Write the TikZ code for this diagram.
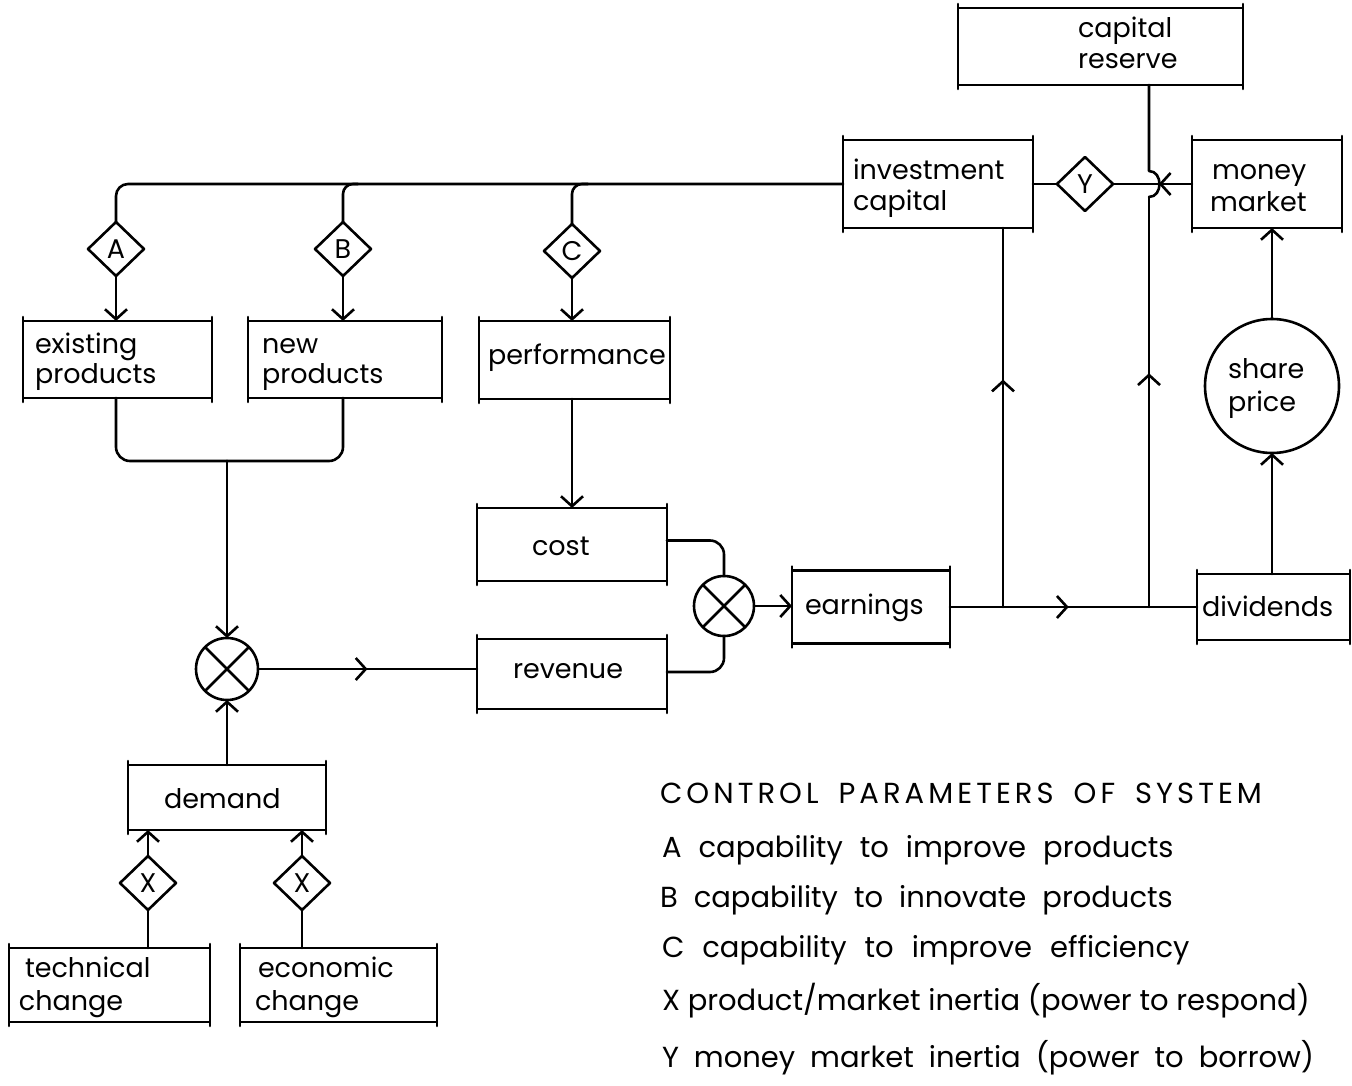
\documentclass[tikz,border=0pt]{standalone}
\usepackage{fontspec}
\setmainfont{Poppins}
\usetikzlibrary{arrows.meta,shapes.geometric,decorations.markings,calc}

\begin{document}
\begin{tikzpicture}[x=1pt,y=-1pt,
  line width=2.6pt, line cap=round, line join=round,
  every node/.style={inner sep=0pt, outer sep=0pt},
  barb/.tip={Straight Barb[length=10pt,width=22pt]},
  arrowto/.style={-barb},
  midarrow/.style={postaction={decorate},
    decoration={markings, mark=at position #1 with {\arrow{barb}}}},
  blk/.style 2 args={draw, minimum width=#1, minimum height=#2},
  lbl/.style={anchor=base west, font=\fontsize{27}{30}\selectfont},
  dia/.style={draw, shape=diamond, minimum width=56pt, minimum height=54pt,
    font=\fontsize{27}{27}\selectfont},
  mix/.style={draw, circle, minimum size=#1,
    path picture={\draw (path picture bounding box.north west) -- (path picture bounding box.south east)
                        (path picture bounding box.north east) -- (path picture bounding box.south west);}},
  legend/.style={anchor=base west, font=\fontsize{29}{32}\selectfont}
]
\useasboundingbox[fill=white] (0,0) rectangle (1352,1086);

% ---------- boxes ----------
\node[blk={189pt}{77pt}] (ep) at (117.5,359.5) {};
\node[blk={194pt}{77pt}] (np) at (345,359.5) {};
\node[blk={191pt}{78pt}] (pf) at (574.5,360) {};
\node[blk={190pt}{73pt}] (cs) at (572,544.5) {};
\node[blk={190pt}{70pt}] (rv) at (572,674) {};
\node[blk={158pt}{73pt}] (er) at (871,607) {};
\node[blk={190pt}{88pt}] (ic) at (938,184) {};
\node[blk={285pt}{77pt}] (cr) at (1100.5,46.5) {};
\node[blk={150pt}{88pt}] (mm) at (1267,184) {};
\node[blk={153pt}{66pt}] (dv) at (1273.5,607) {};
\node[blk={198pt}{65pt}] (dm) at (227,797.5) {};
\node[blk={201pt}{74pt}] (tc) at (109.5,985) {};
\node[blk={197pt}{74pt}] (ec) at (338.5,985) {};

% side strokes run a little past the corners
\foreach \b in {ep,np,pf,cs,rv,er,ic,cr,mm,dv,dm,tc,ec} {
  \draw ([yshift=4pt]\b.north west) -- ([yshift=-4pt]\b.south west)
        ([yshift=4pt]\b.north east) -- ([yshift=-4pt]\b.south east);
}

% ---------- box texts ----------
\node[lbl] (t-ep1) at (35,353) {existing};
\node[lbl] (t-ep2) at (35,383) {products};
\node[lbl] (t-np1) at (262,353) {new};
\node[lbl] (t-np2) at (262,383) {products};
\node[lbl] (t-pf)  at (488,364) {performance};
\node[lbl] (t-cs)  at (532,555) {cost};
\node[lbl] (t-rv)  at (513,678) {revenue};
\node[lbl] (t-er)  at (805,614) {earnings};
\node[lbl] (t-ic1) at (853,180) {investment};
\node[lbl] (t-ic2) at (853,211) {capital};
\node[lbl] (t-cr1) at (1078,38) {capital};
\node[lbl] (t-cr2) at (1078,69) {reserve};
\node[lbl] (t-mm1) at (1212,180) {money};
\node[lbl] (t-mm2) at (1210,212) {market};
\node[lbl] (t-dv)  at (1202,616) {dividends};
\node[lbl] (t-dm)  at (164,808) {demand};
\node[lbl] (t-tc1) at (25,977) {technical};
\node[lbl] (t-tc2) at (19,1010) {change};
\node[lbl] (t-ec1) at (258,977) {economic};
\node[lbl] (t-ec2) at (255,1010) {change};

% ---------- diamonds and junctions ----------
\node[dia] (dA) at (116,249) {A};
\node[dia] (dB) at (343,249) {B};
\node[dia] (dC) at (572,251) {C};
\node[dia] (dY) at (1085,184) {Y};
\node[dia] (dX1) at (148,883) {X};
\node[dia] (dX2) at (302,883) {X};

\node[mix=62pt] (m1) at (227,669) {};
\node[mix=60pt] (m2) at (724,606) {};
\node[draw, circle, minimum size=134pt] (sp) at (1272,386) {};
\node[lbl] (t-sp1) at (1228,378) {share};
\node[lbl] (t-sp2) at (1228,411) {price};

\coordinate (bB) at (358,184);
\coordinate (bC) at (588,184);
\coordinate (jP) at (227,461);
\coordinate (jI) at (1003,607);
\coordinate (jR) at (1149,607);
\coordinate (hopL) at (1149,197);
\coordinate (hopU) at (1149,171);

% ---------- connectors ----------
% investment capital feeding A, B, C
\draw[rounded corners=12pt] (ic.west) -| (dA.north);
\draw[rounded corners=10pt] (bB) -| (dB.north);
\draw[rounded corners=10pt] (bC) -| (dC.north);
\draw[arrowto] (dA.south) -- (dA.south |- ep.north);
\draw[arrowto] (dB.south) -- (dB.south |- np.north);
\draw[arrowto] (dC.south) -- (dC.south |- pf.north);

% products into the demand mixer
\draw[rounded corners=14pt] (ep.south -| dA.south) |- (jP);
\draw[rounded corners=14pt] (np.south -| dB.south) |- (jP);
\draw[arrowto] (jP) -- (m1.north);
\draw[arrowto] (dm.north) -- (m1.south);
\draw[arrowto] (dX1.north) -- (dX1.north |- dm.south);
\draw[arrowto] (dX2.north) -- (dX2.north |- dm.south);
\draw (dX1.south |- tc.north) -- (dX1.south);
\draw (dX2.south |- ec.north) -- (dX2.south);
\draw[midarrow=0.5] (m1.east) -- (m1.east -| rv.west);

% cost / revenue into earnings
\draw[arrowto] (dC.south |- pf.south) -- (dC.south |- cs.north);
\draw[rounded corners=14pt] ($(cs.east)+(0,-4)$) -| (m2.north);
\draw[rounded corners=14pt] ($(rv.east)+(0,-2)$) -| (m2.south);
\draw[arrowto] (m2.east) -- (m2.east -| er.west);

% earnings distributed
\draw (er.east) -- (jI);
\draw[midarrow=0.45] (jI) -- (jR);
\draw (jR) -- (dv.west);
\draw[midarrow=0.6] (jI) -- (jI |- ic.south);
\draw[midarrow=0.57] (jR) -- (hopL);
\draw (hopL) .. controls (1163,197) and (1163,171) .. (hopU) -- (hopU |- cr.south);

% money market loop
\draw[midarrow=0.42] (mm.west) -- (dY.east);
\draw (dY.west) -- (ic.east);
\draw[arrowto] (sp.south |- dv.north) -- (sp.south);
\draw[arrowto] (sp.north) -- (sp.north |- mm.south);

% ---------- legend ----------
\node[legend] (lg0) at (660,803)
  {\addfontfeatures{LetterSpace=14}\spaceskip=20pt\relax CONTROL PARAMETERS OF SYSTEM};
\node[legend] (lgA) at (662,857) {\spaceskip=17pt\relax A capability to improve products};
\node[legend] (lgB) at (660,907) {\spaceskip=16pt\relax B capability to innovate products};
\node[legend] (lgC) at (662,957) {\spaceskip=18pt\relax C capability to improve efficiency};
\node[legend] (lgX) at (662,1010) {X product/market inertia (power to respond)};
\node[legend] (lgY) at (662,1067) {\spaceskip=15pt\relax Y money market inertia (power to borrow)};
\end{tikzpicture}
\end{document}
